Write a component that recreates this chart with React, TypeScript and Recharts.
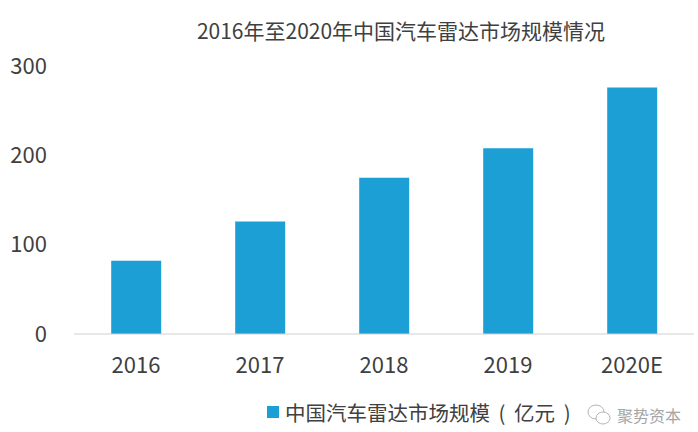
import { BarChart, Bar, XAxis, YAxis } from "recharts"

const years = ["2016", "2017", "2018", "2019", "2020E"]
const marketSize = [82, 126, 175, 208, 276]
const yTicks = [0, 100, 200, 300]

const data = years.map((name, i) => ({ name, value: marketSize[i] }))

const FONT = '"Noto Sans CJK SC", "Noto Sans", sans-serif'
const TEXT = "#404040"
const BLUE = "#1b9fd4"

export default function App() {
  return (
    <div style={{ position: "absolute", left: 0, top: 0, width: 698, height: 432, background: "#fff", fontFamily: FONT, overflow: "hidden" }}>
      <div style={{ position: "absolute", left: 0, top: 17, width: 802, textAlign: "center", fontSize: 21, color: TEXT, lineHeight: "26px" }}>
        2016年至2020年中国汽车雷达市场规模情况
      </div>
      <div style={{ position: "absolute", left: 0, top: 0 }}>
        <BarChart width={698} height={432} data={data} barCategoryGap="30%" margin={{ top: 66, right: 4, left: 14, bottom: 68 }}>
          <XAxis dataKey="name" axisLine={{ stroke: "#d0d0d0" }} tickLine={false} tick={{ fill: TEXT, fontSize: 22, fontFamily: FONT }} tickMargin={17} />
          <YAxis domain={[0, 300]} ticks={yTicks} axisLine={false} tickLine={false} width={60} tickMargin={21} tick={{ fill: TEXT, fontSize: 22, fontFamily: FONT }} />
          <Bar dataKey="value" fill={BLUE} isAnimationActive={false} />
        </BarChart>
      </div>
      <div style={{ position: "absolute", left: 267, top: 397, display: "flex", alignItems: "center", color: TEXT, fontSize: 20.5, lineHeight: "30px", whiteSpace: "pre", wordSpacing: 4 }}>
        <span style={{ width: 12, height: 12, background: BLUE, marginRight: 6 }} />
        中国汽车雷达市场规模 ( 亿元 )
      </div>
      <svg width={28} height={24} style={{ position: "absolute", left: 586, top: 403 }} fill="none" stroke="#b5b5b5" strokeWidth={1}>
        <ellipse cx={10} cy={9} rx={8} ry={7} />
        <ellipse cx={17} cy={15} rx={7} ry={6} fill="#fff" />
      </svg>
      <div style={{ position: "absolute", left: 617, top: 404, color: "#a5a5a5", fontSize: 16, lineHeight: "22px" }}>聚势资本</div>
    </div>
  )
}
